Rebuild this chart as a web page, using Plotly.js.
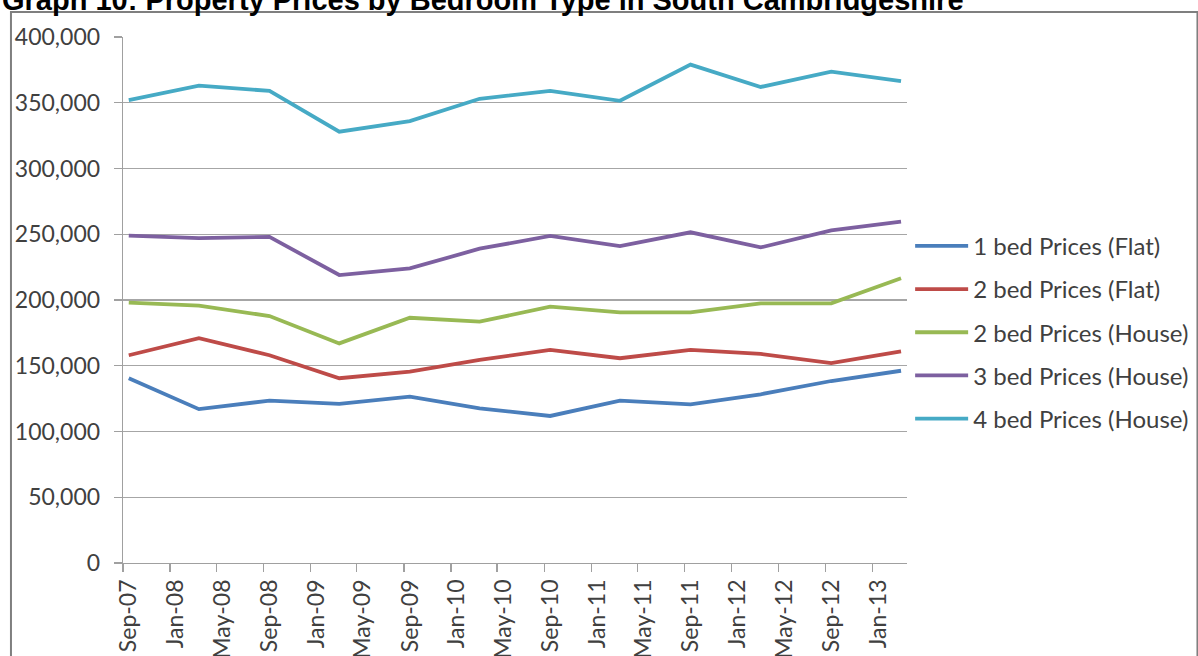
<!DOCTYPE html>
<html>
<head>
<meta charset="utf-8">
<script src="https://cdn.plot.ly/plotly-3.0.1.min.js"></script>
<style>
  html, body { margin: 0; padding: 0; background: #ffffff; }
  #chart { width: 1198px; height: 656px; }
</style>
</head>
<body>
<div id="chart"></div>
<script>
// Half-yearly sale periods (Sep / Mar)
const periods = ['2007-09', '2008-03', '2008-09', '2009-03', '2009-09', '2010-03',
                 '2010-09', '2011-03', '2011-09', '2012-03', '2012-09', '2013-03'];

// Prices in £ by property type
const oneBedFlat    = [140500, 117000, 123500, 121000, 126500, 117600, 111800, 123500, 120700, 128300, 138400, 146200];
const twoBedFlat    = [158000, 171000, 158000, 140500, 145500, 154400, 162000, 155700, 162000, 159000, 152000, 161000];
const twoBedHouse   = [198000, 195700, 187800, 167000, 186500, 183500, 195000, 190600, 190600, 197500, 197500, 216500];
const threeBedHouse = [249000, 247000, 248000, 219000, 224000, 239000, 248700, 241000, 251500, 240000, 253000, 259600];
const fourBedHouse  = [352000, 363000, 359000, 328000, 336000, 353000, 359000, 351500, 379000, 362000, 373600, 366500];

const seriesNames = ['1 bed Prices (Flat)', '2 bed Prices (Flat)', '2 bed Prices (House)',
                     '3 bed Prices (House)', '4 bed Prices (House)'];
const seriesValues = [oneBedFlat, twoBedFlat, twoBedHouse, threeBedHouse, fourBedHouse];
const seriesColors = ['#4A7EBB', '#BE4B48', '#98B954', '#7D60A0', '#46AAC5'];

const titleText = 'Graph 10: Property Prices by Bedroom Type in South Cambridgeshire';

const uiFont = 'Lato, "Open Sans", sans-serif';

const traces = seriesNames.map((name, i) => ({
  type: 'scatter',
  mode: 'lines',
  name: name,
  legendgroup: 'g' + i,
  x: periods,
  y: seriesValues[i],
  xperiod: 'M1',
  xperiodalignment: 'middle',
  line: { color: seriesColors[i], width: 3.8 },
  hoverinfo: 'x+y+name'
}));

const layout = {
  width: 1198,
  height: 656,
  margin: { l: 123, r: 291, t: 37, b: 93, pad: 0, autoexpand: false },
  paper_bgcolor: '#ffffff',
  plot_bgcolor: '#ffffff',
  showlegend: true,
  legend: {
    x: 1.004, xanchor: 'left',
    y: 0.645, yanchor: 'top',
    font: { family: uiFont, size: 24, color: '#404040' },
    tracegroupgap: 9,
    itemwidth: 53,
    bgcolor: 'rgba(0,0,0,0)'
  },
  xaxis: {
    type: 'date',
    range: ['2007-09-01', '2013-04-01'],
    tick0: '2007-09-01',
    dtick: 'M4',
    tickformat: '%b-%y',
    tickangle: -90,
    ticks: 'outside',
    ticklen: 8,
    tickcolor: '#a0a0a0',
    tickwidth: 1.3,
    ticklabelshift: 6,
    ticklabelstandoff: -2,
    showgrid: false,
    zeroline: false,
    showline: true,
    linecolor: '#a0a0a0',
    linewidth: 1.3,
    tickfont: { family: uiFont, size: 23, color: '#404040' }
  },
  yaxis: {
    range: [0, 400000],
    dtick: 50000,
    tickformat: ',d',
    ticks: 'outside',
    ticklen: 8,
    tickcolor: '#a0a0a0',
    tickwidth: 1.3,
    ticklabelstandoff: 9,
    showgrid: true,
    gridcolor: '#a6a6a6',
    gridwidth: 1.3,
    zeroline: false,
    showline: true,
    linecolor: '#a0a0a0',
    linewidth: 1.3,
    tickfont: { family: uiFont, size: 23, color: '#404040' }
  },
  shapes: [{
    type: 'rect', xref: 'paper', yref: 'paper',
    x0: -0.1429, x1: 1.3705, y0: -0.25, y1: 1.0475,
    line: { color: '#7f7f7f', width: 2 },
    fillcolor: 'rgba(0,0,0,0)',
    layer: 'below'
  }],
  annotations: [{
    text: '<b>' + titleText + '</b>',
    xref: 'paper', yref: 'paper',
    x: -0.1572, xanchor: 'left',
    y: 1.0705, yanchor: 'middle',
    showarrow: false,
    font: { family: '"Liberation Sans", Arial, sans-serif', size: 29, color: '#000000' }
  }]
};

Plotly.newPlot('chart', traces, layout, { displayModeBar: false, staticPlot: true });
</script>
</body>
</html>
